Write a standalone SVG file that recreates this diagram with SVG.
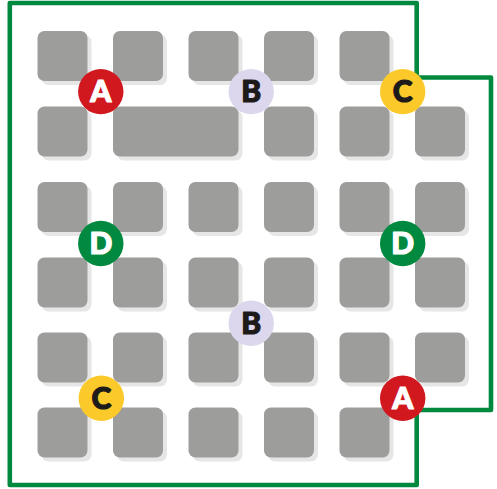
<svg xmlns="http://www.w3.org/2000/svg" width="497" height="489" viewBox="0 0 497 489">
<style>
.sh{fill:#e6e6e6}
.t{fill:#9d9d9c}
.ln{fill:none;stroke:#00893f;stroke-width:4.6;stroke-linejoin:round}
.lbl{font-family:Lato,"Open Sans","DejaVu Sans",sans-serif;font-weight:900;font-size:30px;text-anchor:middle;stroke-width:1.2;stroke-linejoin:round}
.w{fill:#ffffff;stroke:#ffffff}
.k{fill:#1d1a1a;stroke:#1d1a1a}
</style>
<defs>
<g id="tile"><rect class="sh" x="4" y="4" width="50" height="50" rx="7"/><rect class="t" x="0" y="0" width="50" height="50" rx="7"/></g>
<g id="wide"><rect class="sh" x="4" y="4" width="125.5" height="50" rx="7"/><rect class="t" x="0" y="0" width="125.5" height="50" rx="7"/></g>
</defs>
<rect width="497" height="489" fill="#ffffff"/>
<g id="tiles">
<use href="#tile" x="37.5" y="31"/><use href="#tile" x="113" y="31"/><use href="#tile" x="188.5" y="31"/><use href="#tile" x="264" y="31"/><use href="#tile" x="339.5" y="31"/>
<use href="#tile" x="37.5" y="106.5"/><use href="#wide" x="113" y="106.5"/><use href="#tile" x="264" y="106.5"/><use href="#tile" x="339.5" y="106.5"/><use href="#tile" x="415" y="106.5"/>
<use href="#tile" x="37.5" y="182"/><use href="#tile" x="113" y="182"/><use href="#tile" x="188.5" y="182"/><use href="#tile" x="264" y="182"/><use href="#tile" x="339.5" y="182"/><use href="#tile" x="415" y="182"/>
<use href="#tile" x="37.5" y="257.5"/><use href="#tile" x="113" y="257.5"/><use href="#tile" x="188.5" y="257.5"/><use href="#tile" x="264" y="257.5"/><use href="#tile" x="339.5" y="257.5"/><use href="#tile" x="415" y="257.5"/>
<use href="#tile" x="37.5" y="332.5"/><use href="#tile" x="113" y="332.5"/><use href="#tile" x="188.5" y="332.5"/><use href="#tile" x="264" y="332.5"/><use href="#tile" x="339.5" y="332.5"/><use href="#tile" x="415" y="332.5"/>
<use href="#tile" x="37.5" y="407.5"/><use href="#tile" x="113" y="407.5"/><use href="#tile" x="188.5" y="407.5"/><use href="#tile" x="264" y="407.5"/><use href="#tile" x="339.5" y="407.5"/>
</g>
<g id="connectors">
<path class="ln" d="M9.8 3 H416.7 V77.5 H491 V410 H416.7 V485 H9.8 Z"/>
</g>
<g id="A1"><circle cx="100.8" cy="91.6" r="22.7" fill="#d0181e"/><text class="lbl w" x="100.8" y="102.3">A</text></g>
<g id="B1"><circle cx="251.2" cy="91.6" r="22.7" fill="#dcd7ec"/><text class="lbl k" x="251.2" y="102.3">B</text></g>
<g id="C1"><circle cx="402.7" cy="91.6" r="22.7" fill="#fcc92a"/><text class="lbl k" x="402.7" y="102.3">C</text></g>
<g id="D1"><circle cx="100.8" cy="243.5" r="22.7" fill="#00893f"/><text class="lbl w" x="100.8" y="254.2">D</text></g>
<g id="D2"><circle cx="402.7" cy="243.5" r="22.7" fill="#00893f"/><text class="lbl w" x="402.7" y="254.2">D</text></g>
<g id="B2"><circle cx="251.2" cy="323.2" r="22.7" fill="#dcd7ec"/><text class="lbl k" x="251.2" y="333.9">B</text></g>
<g id="C2"><circle cx="101.3" cy="398.3" r="22.7" fill="#fcc92a"/><text class="lbl k" x="101.3" y="409">C</text></g>
<g id="A2"><circle cx="402.7" cy="398.3" r="22.7" fill="#d0181e"/><text class="lbl w" x="402.7" y="409">A</text></g>
</svg>
